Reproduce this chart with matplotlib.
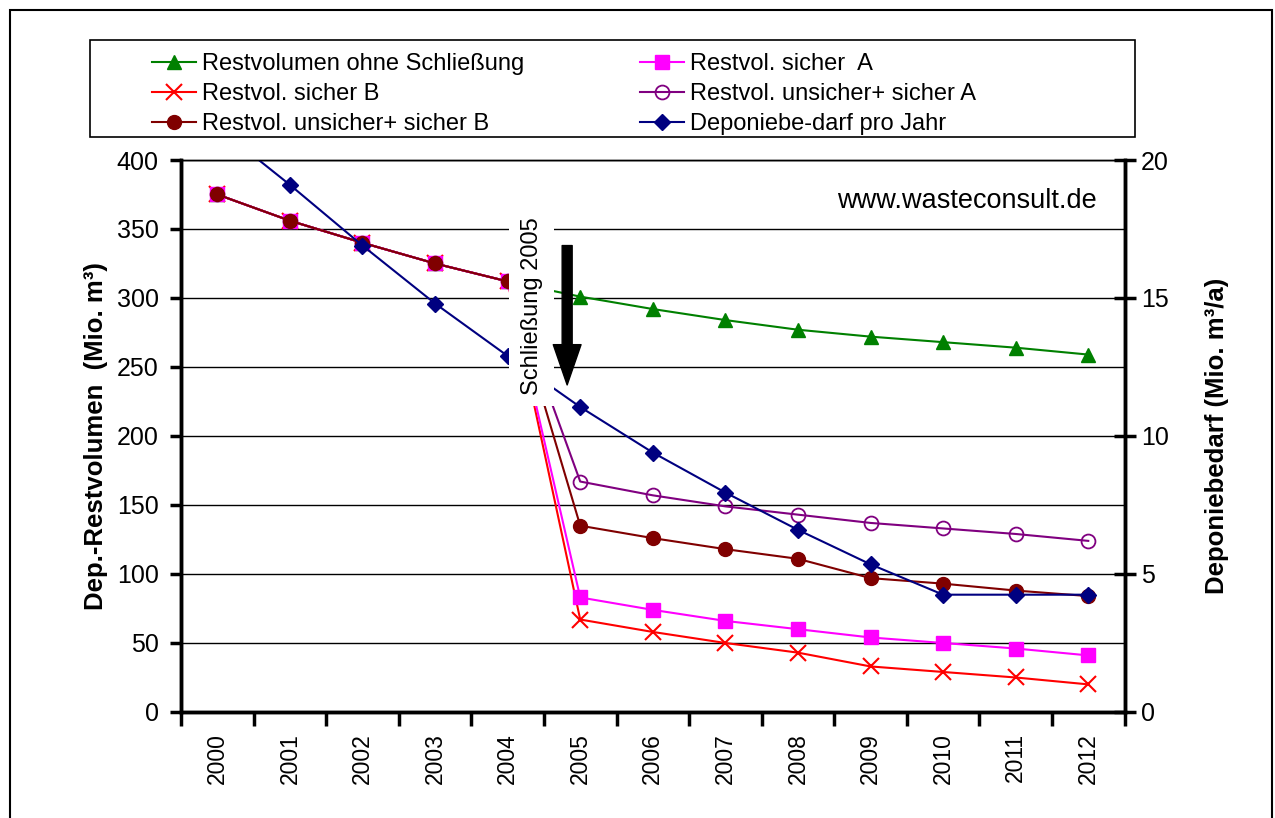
import matplotlib.pyplot as plt
from matplotlib.patches import Rectangle

plt.rcParams['font.family'] = ['Liberation Sans', 'DejaVu Sans']

years = ['2000', '2001', '2002', '2003', '2004', '2005', '2006',
         '2007', '2008', '2009', '2010', '2011', '2012']
common = [375, 356, 340, 325, 312]

ohne_schliessung = common + [301, 292, 284, 277, 272, 268, 264, 259]
sicher_a = common + [83, 74, 66, 60, 54, 50, 46, 41]
sicher_b = common + [67, 58, 50, 43, 33, 29, 25, 20]
unsicher_a = common + [167, 157, 149, 143, 137, 133, 129, 124]
unsicher_b = common + [135, 126, 118, 111, 97, 93, 88, 84]
bedarf = [21.2, 19.1, 16.9, 14.8, 12.9, 11.05, 9.4, 7.95, 6.6, 5.35, 4.25, 4.25, 4.25]

fig = plt.figure(figsize=(12.75, 8.18), dpi=100)
ax = fig.add_axes([0.142, 0.1296, 0.740, 0.6748])
ax2 = ax.twinx()

x = list(range(len(years)))

ax.plot(x, ohne_schliessung, color='#008000', marker='^', ms=10, lw=1.5,
        label='Restvolumen ohne Schließung')
ax.plot(x, sicher_b, color='#FF0000', marker='x', ms=11, mew=1.5, lw=1.5,
        label='Restvol. sicher B')
ax.plot(x, unsicher_b, color='#800000', marker='o', ms=10, lw=1.5, zorder=3,
        label='Restvol. unsicher+ sicher B')
ax.plot(x, sicher_a, color='#FF00FF', marker='s', ms=10, lw=1.5, zorder=2.5,
        label='Restvol. sicher  A')
ax.plot(x, unsicher_a, color='#800080', marker='o', ms=10, mfc='none', mew=1.3, lw=1.5,
        label='Restvol. unsicher+ sicher A')
ax2.plot(x, bedarf, color='#000080', marker='D', ms=8, lw=1.5,
         label='Deponiebe-darf pro Jahr')

ax.set_xlim(-0.5, len(years) - 0.5)
ax.set_ylim(0, 400)
ax2.set_ylim(0, 20)
ax.set_yticks(range(0, 401, 50))
ax2.set_yticks(range(0, 21, 5))

ax.yaxis.grid(True, color='black', lw=1)
ax.set_axisbelow(True)

ax.set_xticks([i - 0.5 for i in range(len(years) + 1)])
ax.set_xticklabels([])
ax.set_xticks(x, minor=True)
ax.set_xticklabels(years, minor=True, rotation=90, fontsize=16.5)
ax.tick_params(axis='x', which='major', length=10, width=2.5, direction='out')
ax.tick_params(axis='x', which='minor', length=0, pad=15)
ax.tick_params(axis='y', length=8, width=2.5, direction='out', labelsize=18, pad=8)
ax2.tick_params(axis='y', length=16, width=2.5, direction='inout', labelsize=18, pad=4)

for a in (ax, ax2):
    a.spines['top'].set_linewidth(1)
    for s in ('left', 'right', 'bottom'):
        a.spines[s].set_linewidth(2.5)

ax.set_ylabel('Dep.-Restvolumen  (Mio. m³)', fontsize=18.5, fontweight='bold', labelpad=6)
ax2.set_ylabel('Deponiebedarf (Mio. m³/a)', fontsize=18.5, fontweight='bold', labelpad=26)

ax.text(12.12, 370, 'www.wasteconsult.de', fontsize=19.5, ha='right', va='center')

# closure annotation
ax2.text(4.33, 14.7, 'Schließung 2005', rotation=90, fontsize=17, ha='center', va='center',
         zorder=10, bbox=dict(facecolor='white', edgecolor='none', pad=8))
ax2.annotate('', xy=(4.82, 11.85), xytext=(4.82, 16.9), zorder=11,
             arrowprops=dict(arrowstyle='simple,head_length=1.45,head_width=1.0,tail_width=0.36',
                             fc='black', ec='black', mutation_scale=20,
                             shrinkA=0, shrinkB=0))

handles = ax.get_legend_handles_labels()[0] + ax2.get_legend_handles_labels()[0]
leg = fig.legend(handles, [h.get_label() for h in handles], ncol=2, frameon=False,
                 loc='upper left', bbox_to_anchor=(0.110, 0.9495), fontsize=17,
                 handlelength=1.86, handletextpad=0.25, columnspacing=4.9,
                 labelspacing=0.34, borderpad=0)

fig.patches.append(Rectangle((90 / 1275, 1 - 137 / 818), 1045 / 1275, 97 / 818,
                             transform=fig.transFigure, fill=False, ec='black', lw=1.2))
fig.patches.append(Rectangle((10 / 1275, -0.05), 1262 / 1275, 1.05 - 10 / 818,
                             transform=fig.transFigure, fill=False, ec='black', lw=1.5))

fig.savefig('out.png', dpi=100)
